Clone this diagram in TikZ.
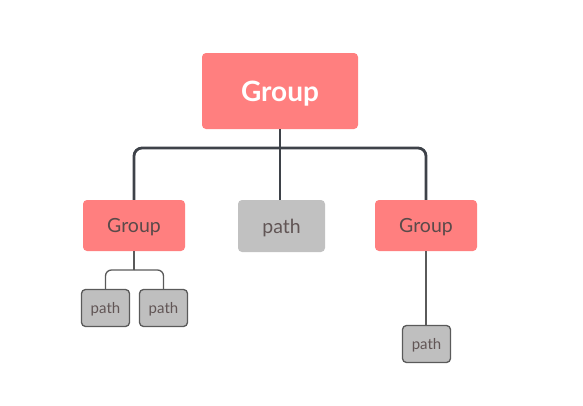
\documentclass[tikz,border=0pt]{standalone}
\usepackage{fontspec}
\setmainfont{Lato}
\definecolor{pinkbox}{HTML}{FF7F7F}
\definecolor{graybox}{HTML}{C1C1C1}
\definecolor{smallgray}{HTML}{BFBFBF}
\definecolor{darkline}{HTML}{3E4249}
\definecolor{thinline}{HTML}{5A5A5A}
\definecolor{txtdark}{HTML}{5A4A4A}
\begin{document}
\begin{tikzpicture}[x=1pt,y=-1pt,
  topbox/.style={fill=pinkbox,rounded corners=4pt,minimum width=156pt,minimum height=76pt,inner sep=0pt,text depth=0pt,text=white,font=\fontsize{28}{32}\selectfont\bfseries},
  groupbox/.style={fill=pinkbox,rounded corners=4pt,minimum width=102pt,minimum height=51pt,inner sep=0pt,text depth=0pt,text=txtdark,font=\fontsize{19.5}{23}\selectfont},
  pathbox/.style={fill=graybox,rounded corners=4pt,minimum width=87pt,minimum height=52pt,inner sep=0pt,text depth=0pt,text=txtdark!80!gray,font=\fontsize{19.5}{23}\selectfont},
  smallpath/.style={fill=smallgray,draw=thinline,line width=1.3pt,rounded corners=4pt,minimum width=48pt,minimum height=37pt,inner sep=0pt,text depth=0pt,text=txtdark!80!gray,font=\fontsize{15}{18}\selectfont},
  thick connector/.style={draw=darkline,line width=2.8pt,rounded corners=8pt},
  thin connector/.style={draw=thinline,line width=1.3pt,rounded corners=6pt}]
\useasboundingbox (0,0) rectangle (583,405);
\node[topbox] (root) at (280,91) {Group};
\node[groupbox] (gl) at (134,225.5) {Group};
\node[pathbox] (pm) at (281.5,226) {path};
\node[groupbox] (gr) at (426,225.5) {Group};
\node[smallpath] (p1) at (105.5,308) {path};
\node[smallpath] (p2) at (163.5,308) {path};
\node[smallpath] (p3) at (426.5,344) {path};
\coordinate (hub) at (280,148);
\draw[thick connector] (root.south) -- (hub);
\draw[thick connector] (hub) -| (gl.north);
\draw[thick connector] (hub) -| (gr.north);
\draw[thick connector] (hub) -- (hub |- pm.north);
\coordinate (hubl) at (134,270);
\draw[thin connector] (gl.south) -- (hubl);
\draw[thin connector] (hubl) -| (p1.north);
\draw[thin connector] (hubl) -| (p2.north);
\draw[thin connector] (gr.south) -- (gr.south |- p3.north);
\end{tikzpicture}
\end{document}
